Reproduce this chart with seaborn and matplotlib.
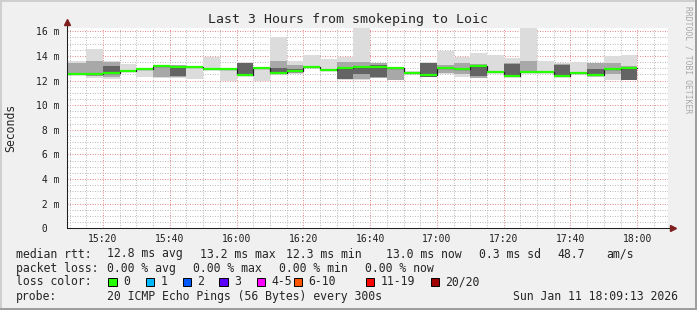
import matplotlib
matplotlib.use("Agg")
import numpy as np
import pandas as pd
import matplotlib.pyplot as plt
import matplotlib.ticker as mticker
from matplotlib.patches import Rectangle
import seaborn as sns

# ---------------- data (milliseconds) ----------------
step_end = ["15:15", "15:20", "15:25", "15:30", "15:35", "15:40", "15:45", "15:50",
            "15:55", "16:00", "16:05", "16:10", "16:15", "16:20", "16:25", "16:30",
            "16:35", "16:40", "16:45", "16:50", "16:55", "17:00", "17:05", "17:10",
            "17:15", "17:20", "17:25", "17:30", "17:35", "17:40", "17:45", "17:50",
            "17:55", "18:00"]
rtt_median = [12.55, 12.55, 12.62, 12.80, 12.95, 13.22, 13.12, 13.12, 12.93, 12.93,
              12.47, 13.04, 12.65, 12.80, 13.12, 12.86, 13.02, 13.12, 13.12, 13.04,
              12.64, 12.45, 13.04, 12.94, 13.20, 12.72, 12.36, 12.70, 12.69, 12.36,
              12.58, 12.44, 12.90, 12.98]
rtt_min = [12.45, 12.20, 12.15, 12.75, 12.30, 12.20, 12.20, 12.10, 12.90, 12.00,
           12.40, 12.00, 12.50, 12.55, 13.10, 12.85, 12.05, 12.05, 12.18, 12.02,
           12.55, 12.26, 12.50, 12.31, 12.18, 12.72, 12.26, 12.70, 12.65, 12.26,
           12.55, 12.31, 12.04, 12.04]
rtt_max = [13.58, 14.55, 13.55, 13.35, 13.00, 13.30, 13.30, 13.20, 13.95, 12.95,
           13.48, 13.05, 15.50, 13.60, 14.10, 13.75, 13.95, 16.40, 13.42, 13.12,
           12.75, 13.48, 14.40, 13.94, 14.26, 14.07, 13.80, 16.40, 13.62, 13.45,
           13.54, 13.40, 14.00, 14.10]
smoke_mid_lo = [12.55, 12.40, 12.30, None, None, 12.25, 12.25, None, None, None,
                12.42, None, 12.55, 12.65, None, None, 12.10, 12.10, 12.20, 12.05,
                None, 12.28, 12.60, 12.50, 12.20, None, 12.28, 12.72, None, 12.28,
                None, 12.40, 12.50, 12.05]
smoke_mid_hi = [13.40, 13.55, 13.50, None, None, 13.25, 13.25, None, None, None,
                13.45, None, 13.60, 13.30, None, None, 13.50, 13.50, 13.40, 13.08,
                None, 13.45, 13.30, 13.40, 13.32, None, 13.40, 13.62, None, 13.32,
                None, 13.40, 13.40, 13.15]
smoke_core_lo = [None, None, 12.65, None, None, None, 12.40, None, None, None,
                 12.45, None, 12.60, 12.70, None, None, 12.10, 12.50, 12.30, None,
                 None, 12.30, None, None, 12.40, None, 12.30, None, None, 12.30,
                 None, 12.45, None, 12.05]
smoke_core_hi = [None, None, 13.20, None, None, None, 13.15, None, None, None,
                 13.42, None, 13.00, 12.90, None, None, 13.00, 13.20, 13.30, None,
                 None, 13.40, None, None, 13.20, None, 13.37, None, None, 13.30,
                 None, 12.90, None, 13.12]

y_tick_values = [0, 2, 4, 6, 8, 10, 12, 14, 16]
x_tick_labels = ["15:20", "15:40", "16:00", "16:20", "16:40", "17:00", "17:20", "17:40", "18:00"]
window_start, window_end = "15:09:13", "18:09:13"

stat_median = {"avg": 12.8, "max": 13.2, "min": 12.3, "now": 13.0, "sd": 0.3, "am/s": 48.7}
stat_loss = {"avg": 0.00, "max": 0.00, "min": 0.00, "now": 0.00}
loss_labels = ["0", "1", "2", "3", "4-5", "6-10", "11-19", "20/20"]
loss_colors = ["#26ff00", "#00b8ff", "#0059ff", "#5e00ff", "#ff00ff", "#ff5500", "#ff0000", "#a00000"]

# ---------------- helpers ----------------
W, H = 697, 310


def to_min(s):
    parts = [int(p) for p in s.split(":")]
    while len(parts) < 3:
        parts.append(0)
    return parts[0] * 60 + parts[1] + parts[2] / 60.0 - 900.0


def fx(x):
    return x / W


def fy(y):
    return 1 - y / H


def arr(v):
    return np.array([np.nan if a is None else a for a in v], dtype=float)


sns.set_style("white")
plt.rcParams["font.family"] = ["DejaVu Sans Mono"]

fig = plt.figure(figsize=(W / 100, H / 100), dpi=100, facecolor="#f0f0f0")

ax_l, ax_r, ax_t, ax_b = 67, 668, 27.5, 228.3
ax = fig.add_axes([fx(ax_l), fy(ax_b), fx(ax_r - ax_l), (ax_b - ax_t) / H])
ax.set_facecolor("white")

x0, x1 = to_min(window_start), to_min(window_end)
ymax = 16 * (ax_b - ax_t) / (ax_b - 31.3)
ax.set_xlim(x0, x1)
ax.set_ylim(0, ymax)

ends = np.array([to_min(s) for s in step_end])
starts = ends - 5.0
starts[0] = x0
widths = ends - starts

# smoke bands
bands = [
    (arr(rtt_min), arr(rtt_max), "#dcdcdc"),
    (arr(smoke_mid_lo), arr(smoke_mid_hi), "#a8a8a8"),
    (arr(smoke_core_lo), arr(smoke_core_hi), "#646464"),
]
for lo, hi, col in bands:
    m = ~np.isnan(lo)
    ax.bar(starts[m], (hi - lo)[m], bottom=lo[m], width=widths[m], align="edge",
           color=col, linewidth=0, zorder=2)

# median: dark connecting step line + green segments
med = np.array(rtt_median)
df = pd.DataFrame({"t": np.append(starts, ends[-1]), "median": np.append(med, med[-1])})
sns.lineplot(data=df, x="t", y="median", drawstyle="steps-post", color="#202020",
             linewidth=0.9, ax=ax, zorder=3, legend=False)
ax.hlines(med, starts, ends, colors=loss_colors[0], linewidth=1.6, zorder=4)

# grid
ax.set_axisbelow(True)
ax.xaxis.set_major_locator(mticker.FixedLocator([to_min(s) for s in x_tick_labels]))
ax.xaxis.set_minor_locator(mticker.MultipleLocator(5))
ax.yaxis.set_major_locator(mticker.FixedLocator(y_tick_values))
ax.yaxis.set_minor_locator(mticker.MultipleLocator(0.5))
ax.set_xticklabels(x_tick_labels)
ax.set_yticklabels([f"{v:2d} m" if v else f"{v:2d}" for v in y_tick_values])
for t in ax.get_yticklabels():
    t.set_horizontalalignment("left")
ax.grid(which="minor", color="#bdbdbd", linestyle=(0, (1, 1.5)), linewidth=0.72, zorder=0)
ax.grid(which="major", color="#e88c8c", linestyle=(0, (1, 1.5)), linewidth=0.72, zorder=0)
ax.tick_params(axis="both", which="both", direction="out", labelsize=7, colors="#1f1f1f")
ax.tick_params(axis="y", which="major", length=2, width=0.7, pad=20.2)
ax.tick_params(axis="y", which="minor", length=2, width=0.7, color="#999999")
ax.tick_params(axis="x", which="major", length=2, width=0.7, pad=2.0)
ax.tick_params(axis="x", which="minor", length=2, width=0.7, color="#999999")
ax.set_xlabel("")
ax.set_ylabel("")

for s in ["top", "right"]:
    ax.spines[s].set_visible(False)
for s in ["left", "bottom"]:
    ax.spines[s].set_color("#1f1f1f")
    ax.spines[s].set_linewidth(0.75)
    ax.spines[s].set_zorder(5)

# axis arrows
ext_y = (ax_t - 22.0) / (ax_b - ax_t)
ext_x = (673.0 - ax_r) / (ax_r - ax_l)
ax.plot([0, 0], [1, 1 + ext_y], transform=ax.transAxes, color="#1f1f1f", lw=0.75, clip_on=False, zorder=5)
ax.plot([1, 1 + ext_x], [0, 0], transform=ax.transAxes, color="#1f1f1f", lw=0.75, clip_on=False, zorder=5)
ax.plot([0], [1 + ext_y], marker="^", ms=4.5, color="#7f1f1f", transform=ax.transAxes, clip_on=False, zorder=6)
ax.plot([1 + ext_x], [0], marker=">", ms=4.5, color="#7f1f1f", transform=ax.transAxes, clip_on=False, zorder=6)

# titles
fig.text(0.5, fy(19.5), "Last 3 Hours from smokeping to Loic", ha="center", va="center", fontsize=9.5)
fig.text(fx(11), fy(128), "Seconds", rotation=90, ha="center", va="center", fontsize=8.3)
fig.text(fx(688), fy(60), "RRDTOOL / TOBI OETIKER", rotation=270, ha="center", va="center",
         fontsize=5.8, color="#a8a8a8")

# legend text
fs = 8.3


def put(x, y, s, **kw):
    fig.text(fx(x), fy(y), s, ha="left", va="center", fontsize=fs, **kw)


r1 = 254.0
put(16, r1, "median rtt:")
put(107, r1, f"{stat_median['avg']:.1f} ms avg")
put(200, r1, f"{stat_median['max']:.1f} ms max")
put(286, r1, f"{stat_median['min']:.1f} ms min")
put(385.7, r1, f"{stat_median['now']:.1f} ms now")
put(479.3, r1, f"{stat_median['sd']:.1f} ms sd")
put(557.3, r1, f"{stat_median['am/s']:.1f}")
put(606.7, r1, "am/s")

r2 = 268.3
put(16, r2, "packet loss:")
put(107, r2, f"{stat_loss['avg']:.2f} % avg")
put(193, r2, f"{stat_loss['max']:.2f} % max")
put(279, r2, f"{stat_loss['min']:.2f} % min")
put(365, r2, f"{stat_loss['now']:.2f} % now")

r3 = 281.7
put(16, r3, "loss color:")
box_x = [108.3, 145.7, 182.7, 219.3, 256.7, 294.0, 365.7, 430.7]
for bx, lab, col in zip(box_x, loss_labels, loss_colors):
    fig.add_artist(Rectangle((fx(bx), fy(r3 + 4.2)), fx(8.4), 8.4 / H, transform=fig.transFigure,
                             facecolor=col, edgecolor="black", linewidth=0.7))
    put(bx + 14.7, r3, lab)

r4 = 296.7
put(16, r4, "probe:")
put(107, r4, "20 ICMP Echo Pings (56 Bytes) every 300s")
put(513.3, r4, "Sun Jan 11 18:09:13 2026")

# 3D border
fig.add_artist(Rectangle((0, fy(2)), 1, 2 / H, transform=fig.transFigure, color="#cfcfcf", lw=0))
fig.add_artist(Rectangle((0, 0), fx(2), 1, transform=fig.transFigure, color="#cfcfcf", lw=0))
fig.add_artist(Rectangle((0, 0), 1, 2.5 / H, transform=fig.transFigure, color="#9e9e9e", lw=0))
fig.add_artist(Rectangle((fx(694.5), 0), fx(2.5), 1, transform=fig.transFigure, color="#9e9e9e", lw=0))

fig.savefig("out.png", dpi=100, facecolor=fig.get_facecolor())
